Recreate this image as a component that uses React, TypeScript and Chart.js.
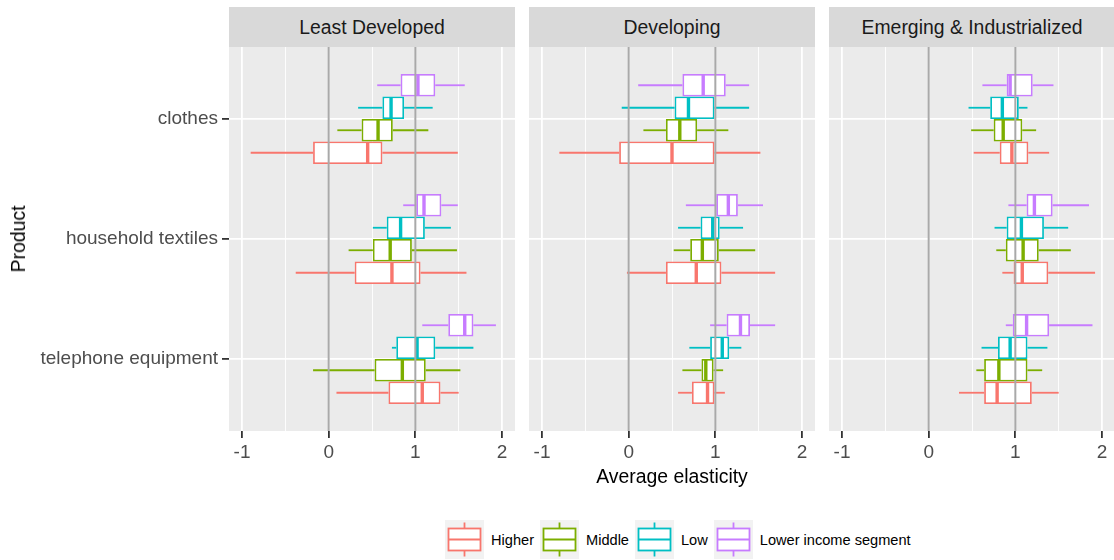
import React, { useEffect, useRef } from "react";
import { Chart, registerables } from "chart.js";

Chart.register(...registerables);

// ---------- data ----------
const products = ["clothes", "household textiles", "telephone equipment"];
const productPositions = [1, 2, 3];
const regions = ["Least Developed", "Developing", "Emerging & Industrialized"];
const segments = ["Higher", "Middle", "Low", "Lower income segment"];
const segmentColors = ["#F8766D", "#7CAE00", "#00BFC4", "#C77CFF"];
const xTicks = [-1, -0.5, 0, 0.5, 1, 1.5, 2];
const xMin = -1.15;
const xMax = 2.15;
const refLines = [0, 1];

// [min, q1, median, q3, max] for clothes, household textiles, telephone equipment
const leastHigher = [[-0.9, -0.18, 0.45, 0.62, 1.49], [-0.38, 0.3, 0.73, 1.06, 1.59], [0.09, 0.69, 1.08, 1.29, 1.5]];
const leastMiddle = [[0.1, 0.38, 0.57, 0.74, 1.15], [0.23, 0.51, 0.71, 0.96, 1.48], [-0.18, 0.53, 0.85, 1.12, 1.52]];
const leastLow = [[0.34, 0.62, 0.72, 0.87, 1.2], [0.51, 0.67, 0.83, 1.11, 1.41], [0.73, 0.78, 1.02, 1.23, 1.67]];
const leastLower = [[0.56, 0.83, 1.03, 1.23, 1.57], [0.86, 1.01, 1.1, 1.3, 1.49], [1.08, 1.38, 1.57, 1.67, 1.93]];

const devHigher = [[-0.8, -0.11, 0.5, 0.99, 1.52], [-0.02, 0.43, 0.78, 1.07, 1.69], [0.57, 0.73, 0.91, 0.99, 1.11]];
const devMiddle = [[0.17, 0.43, 0.59, 0.79, 1.15], [0.52, 0.71, 0.85, 1.04, 1.46], [0.62, 0.84, 0.89, 0.98, 1.09]];
const devLow = [[-0.08, 0.53, 0.69, 0.99, 1.39], [0.57, 0.83, 0.97, 1.05, 1.32], [0.7, 0.94, 1.08, 1.16, 1.3]];
const devLower = [[0.11, 0.62, 0.86, 1.12, 1.39], [0.66, 1.01, 1.15, 1.26, 1.55], [0.94, 1.13, 1.29, 1.4, 1.69]];

const emgHigher = [[0.52, 0.82, 0.96, 1.15, 1.39], [0.85, 0.98, 1.08, 1.38, 1.92], [0.35, 0.64, 0.79, 1.19, 1.5]];
const emgMiddle = [[0.49, 0.75, 0.86, 1.08, 1.24], [0.78, 0.89, 1.09, 1.27, 1.64], [0.55, 0.64, 0.81, 1.14, 1.31]];
const emgLow = [[0.46, 0.71, 0.85, 1.04, 1.14], [0.76, 0.9, 1.07, 1.33, 1.61], [0.61, 0.8, 0.94, 1.14, 1.37]];
const emgLower = [[0.62, 0.9, 0.94, 1.2, 1.44], [0.92, 1.13, 1.22, 1.43, 1.85], [0.89, 0.97, 1.13, 1.39, 1.89]];

const panelStats = [
  [leastHigher, leastMiddle, leastLow, leastLower],
  [devHigher, devMiddle, devLow, devLower],
  [emgHigher, emgMiddle, emgLow, emgLower],
];

// ---------- styling ----------
const FONT = "'Liberation Sans', Arial, Helvetica, sans-serif";
const TICK_SIZE = 19;
const PANEL_TOP = 47;
const PANEL_H = 384;
const XAXIS_H = 40;
const PANEL_W = 286;
const YAXIS_W = 229;
const panelLefts = [229, 529, 829];

const boxPlugin = {
  id: "boxExtras",
  beforeDraw(chart: any) {
    const { ctx, chartArea: a } = chart;
    ctx.save();
    ctx.fillStyle = "#EBEBEB";
    ctx.fillRect(a.left, a.top, a.right - a.left, a.bottom - a.top);
    ctx.restore();
  },
  afterDatasetsDraw(chart: any) {
    const { ctx, chartArea: a } = chart;
    const xs = chart.scales.x;
    const line = (x1: number, y1: number, x2: number, y2: number) => {
      ctx.beginPath();
      ctx.moveTo(x1, y1);
      ctx.lineTo(x2, y2);
      ctx.stroke();
    };
    ctx.save();
    ctx.lineCap = "butt";
    chart.data.datasets.forEach((ds: any, di: number) => {
      const meta = chart.getDatasetMeta(di);
      meta.data.forEach((el: any, i: number) => {
        const s = ds.stats[i];
        const { y, height } = el.getProps(["y", "height"], true);
        ctx.strokeStyle = ds.borderColor;
        ctx.lineWidth = 1.8;
        line(xs.getPixelForValue(s[0]), y, xs.getPixelForValue(s[1]), y);
        line(xs.getPixelForValue(s[3]), y, xs.getPixelForValue(s[4]), y);
        ctx.lineWidth = 3.4;
        const m = xs.getPixelForValue(s[2]);
        line(m, y - height / 2 + 0.9, m, y + height / 2 - 0.9);
      });
    });
    ctx.strokeStyle = "#A9A9A9";
    ctx.lineWidth = 2;
    refLines.forEach((v) => {
      const px = xs.getPixelForValue(v);
      line(px, a.top, px, a.bottom);
    });
    ctx.restore();
  },
};

function Panel({ index }: { index: number }) {
  const ref = useRef<HTMLCanvasElement>(null);
  const showY = index === 0;
  useEffect(() => {
    const stats = panelStats[index];
    const order = [3, 2, 1, 0];
    const datasets = order.map((si) => ({
      label: segments[si],
      data: stats[si].map((s, pi) => ({ x: [s[1], s[3]], y: productPositions[pi] })),
      stats: stats[si],
      backgroundColor: "#FFFFFF",
      borderColor: segmentColors[si],
      borderWidth: 1.8,
      borderSkipped: false,
      barPercentage: 1,
      categoryPercentage: 0.75,
    }));
    const isMajor = (v: any) => typeof v === "number" && Math.abs(v - Math.round(v)) < 1e-9;
    const chart = new Chart(ref.current as HTMLCanvasElement, {
      type: "bar",
      data: { datasets: datasets as any },
      plugins: [boxPlugin as any],
      options: {
        indexAxis: "y",
        animation: false,
        responsive: false,
        maintainAspectRatio: false,
        layout: { padding: 0 },
        plugins: { legend: { display: false }, tooltip: { enabled: false } },
        scales: {
          x: {
            type: "linear",
            min: xMin,
            max: xMax,
            offset: false,
            afterBuildTicks: (s: any) => {
              s.ticks = xTicks.map((v) => ({ value: v }));
            },
            afterFit: (s: any) => {
              s.height = XAXIS_H;
              s.paddingLeft = 0;
              s.paddingRight = 0;
            },
            border: { display: false },
            grid: {
              offset: false,
              color: "#FFFFFF",
              lineWidth: (c: any) => (isMajor(c.tick && c.tick.value) ? 1.8 : 0.9),
              tickColor: (c: any) => (isMajor(c.tick && c.tick.value) ? "#333333" : "rgba(0,0,0,0)"),
              tickLength: 7,
              drawTicks: true,
            },
            ticks: {
              callback: (v: any) => (isMajor(v) ? String(Math.round(v)) : ""),
              color: "#4D4D4D",
              font: { family: FONT, size: TICK_SIZE },
              padding: 3,
              autoSkip: false,
              maxRotation: 0,
            },
          },
          y: {
            type: "linear",
            reverse: true,
            min: 0.4,
            max: 3.6,
            offset: false,
            afterBuildTicks: (s: any) => {
              s.ticks = productPositions.map((v) => ({ value: v }));
            },
            afterFit: (s: any) => {
              s.width = showY ? YAXIS_W : 0;
              s.paddingTop = 0;
              s.paddingBottom = 0;
            },
            border: { display: false },
            grid: {
              offset: false,
              color: "#FFFFFF",
              lineWidth: 1.8,
              tickColor: "#333333",
              tickLength: showY ? 7 : 0,
              drawTicks: showY,
            },
            ticks: {
              display: showY,
              callback: (v: any) => products[productPositions.indexOf(v)] ?? "",
              color: "#4D4D4D",
              font: { family: FONT, size: TICK_SIZE },
              padding: 4,
              autoSkip: false,
            },
          },
        },
      } as any,
    });
    return () => chart.destroy();
  }, [index]);

  const left = showY ? 0 : panelLefts[index];
  const width = showY ? panelLefts[0] + PANEL_W : PANEL_W;
  const height = PANEL_H + XAXIS_H;
  return (
    <canvas
      ref={ref}
      width={width}
      height={height}
      style={{ position: "absolute", left, top: PANEL_TOP, width, height }}
    />
  );
}

function LegendKey({ color }: { color: string }) {
  return (
    <div style={{ width: 39, height: 39, background: "#F2F2F2", flex: "0 0 auto" }}>
      <svg width={39} height={39} viewBox="0 0 39 39">
        <line x1={19.5} y1={2.5} x2={19.5} y2={8.5} stroke={color} strokeWidth={1.8} />
        <line x1={19.5} y1={30.5} x2={19.5} y2={36.5} stroke={color} strokeWidth={1.8} />
        <rect x={3.5} y={8.5} width={32} height={22} fill="#FFFFFF" stroke={color} strokeWidth={1.8} />
        <line x1={3.5} y1={19.5} x2={35.5} y2={19.5} stroke={color} strokeWidth={1.8} />
      </svg>
    </div>
  );
}

export default function App() {
  return (
    <div
      style={{
        position: "fixed",
        left: 0,
        top: 0,
        width: 1114,
        height: 560,
        background: "#FFFFFF",
        overflow: "hidden",
        fontFamily: FONT,
      }}
    >
      {regions.map((r, i) => (
        <div
          key={r}
          style={{
            position: "absolute",
            left: panelLefts[i],
            top: 7,
            width: PANEL_W,
            height: PANEL_TOP - 7,
            background: "#D9D9D9",
            color: "#1A1A1A",
            fontSize: 19.4,
            lineHeight: `${PANEL_TOP - 7}px`,
            textAlign: "center",
            whiteSpace: "nowrap",
          }}
        >
          {r}
        </div>
      ))}
      {regions.map((r, i) => (
        <Panel key={r} index={i} />
      ))}
      <div
        style={{
          position: "absolute",
          left: panelLefts[0],
          width: panelLefts[2] + PANEL_W - panelLefts[0],
          top: 464,
          textAlign: "center",
          fontSize: 19.4,
          color: "#000000",
          lineHeight: "24px",
        }}
      >
        Average elasticity
      </div>
      <div
        style={{
          position: "absolute",
          left: 18,
          top: PANEL_TOP + PANEL_H / 2,
          transform: "translate(-50%, -50%) rotate(-90deg)",
          fontSize: 19.4,
          color: "#000000",
          whiteSpace: "nowrap",
          lineHeight: "24px",
        }}
      >
        Product
      </div>
      <div
        style={{
          position: "absolute",
          left: 445,
          top: 520,
          display: "flex",
          alignItems: "center",
          height: 39,
        }}
      >
        {segments.map((s, i) => (
          <React.Fragment key={s}>
            <LegendKey color={segmentColors[i]} />
            <span
              style={{
                marginLeft: 7,
                marginRight: i < segments.length - 1 ? 6 : 0,
                fontSize: 14.6,
                color: "#000000",
                whiteSpace: "nowrap",
              }}
            >
              {s}
            </span>
          </React.Fragment>
        ))}
      </div>
    </div>
  );
}
